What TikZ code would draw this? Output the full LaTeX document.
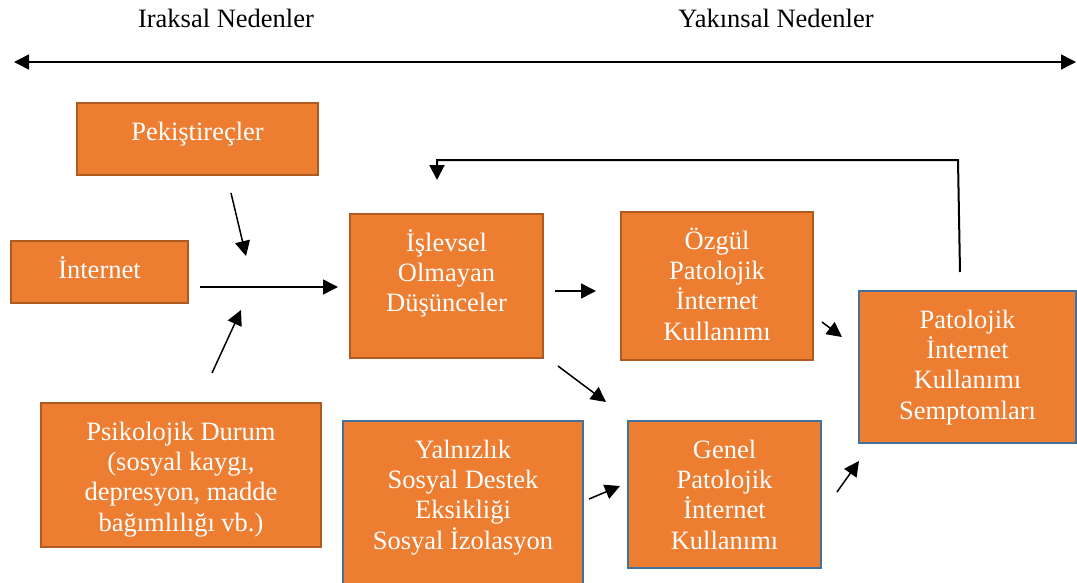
\documentclass[tikz,border=0pt]{standalone}
\usepackage{fontspec}
\setmainfont{Liberation Serif}
\usetikzlibrary{arrows.meta,calc}
\definecolor{boxfill}{RGB}{237,125,49}
\definecolor{edgebrown}{RGB}{174,90,33}
\definecolor{edgeblue}{RGB}{65,113,156}
% uniform height for the first line of every box text
\newcommand\firststrut{\rule{0pt}{24pt}}
\begin{document}
\begin{tikzpicture}[x=1pt,y=-1pt,
  panel/.style={draw=#1, fill=boxfill, line width=2pt, inner sep=0pt, anchor=north west},
  caption/.style={text=white, font=\fontsize{26.5}{30.3}\selectfont, align=center, inner sep=0pt, anchor=north},
  heading/.style={text=black, font=\fontsize{26.5}{30.3}\selectfont, inner sep=0pt, anchor=base},
  tip/.tip={Triangle[length=15pt,width=15pt]},
  conn/.style={-tip, line width=1.5pt}
]
\useasboundingbox (0,0) rectangle (1077,582);

% headings and the time axis
\node[heading] (far) at (226,27) {Iraksal Nedenler};
\node[heading] (near) at (776,27) {Yakınsal Nedenler};
\coordinate (axisL) at (14,62);
\coordinate (axisR) at (1076,62);
\draw[tip-tip, line width=1.5pt] (axisL) -- (axisR);

% boxes
\node[panel=edgebrown, minimum width=241pt, minimum height=72pt] (pek) at (76,102) {};
\node[panel=edgebrown, minimum width=177pt, minimum height=62pt] (inet) at (10,240) {};
\node[panel=edgebrown, minimum width=280pt, minimum height=144pt] (psi) at (40,402) {};
\node[panel=edgebrown, minimum width=193pt, minimum height=144pt] (isl) at (349,213) {};
\node[panel=edgebrown, minimum width=192pt, minimum height=148pt] (ozg) at (620,211) {};
\node[panel=edgeblue, minimum width=240pt, minimum height=175pt] (yal) at (342,420) {};
\node[panel=edgeblue, minimum width=193pt, minimum height=147pt] (gen) at (627,420) {};
\node[panel=edgeblue, minimum width=217pt, minimum height=152pt] (sym) at (858,290) {};

% box texts
\node[caption] (pekT) at ($(pek.north)+(0,14)$) {\firststrut Pekiştireçler};
\node[caption] (inetT) at ($(inet.north)+(0,14)$) {\firststrut İnternet};
\node[caption] (psiT) at ($(psi.north)+(0,14)$) {\firststrut Psikolojik Durum\\(sosyal kaygı,\\depresyon, madde\\bağımlılığı vb.)};
\node[caption] (islT) at ($(isl.north)+(0,14)$) {\firststrut İşlevsel\\Olmayan\\Düşünceler};
\node[caption] (ozgT) at ($(ozg.north)+(0,14)$) {\firststrut Özgül\\Patolojik\\İnternet\\Kullanımı};
\node[caption] (yalT) at ($(yal.north)+(0,14)$) {\firststrut Yalnızlık\\Sosyal Destek\\Eksikliği\\Sosyal İzolasyon};
\node[caption] (genT) at ($(gen.north)+(0,14)$) {\firststrut Genel\\Patolojik\\İnternet\\Kullanımı};
\node[caption] (symT) at ($(sym.north)+(0,14)$) {\firststrut Patolojik\\İnternet\\Kullanımı\\Semptomları};

% connector end points
\coordinate (pekA) at (231,193);  \coordinate (pekB) at (246,256);
\coordinate (psiA) at (212,373);  \coordinate (psiB) at (241,310);
\coordinate (inA) at (200,287);   \coordinate (inB) at (338,287);
\coordinate (ioA) at (555,291);   \coordinate (ioB) at (596,291);
\coordinate (igA) at (558,366);   \coordinate (igB) at (606,402);
\coordinate (osA) at (822,322);   \coordinate (osB) at (842,337);
\coordinate (ygA) at (589,499);   \coordinate (ygB) at (620,486);
\coordinate (gsA) at (837,492);   \coordinate (gsB) at (859,461);
\coordinate (fbA) at (960,272);   \coordinate (fbB) at (958,160);
\coordinate (fbC) at (437,160);   \coordinate (fbD) at (437,180);

% connectors
\draw[conn] (pekA) -- (pekB);
\draw[conn] (psiA) -- (psiB);
\draw[conn] (inA) -- (inB);
\draw[conn] (ioA) -- (ioB);
\draw[conn] (igA) -- (igB);
\draw[conn] (osA) -- (osB);
\draw[conn] (ygA) -- (ygB);
\draw[conn] (gsA) -- (gsB);
\draw[conn, line width=2pt] (fbA) -- (fbB) -- (fbC) -- (fbD);
\end{tikzpicture}
\end{document}
